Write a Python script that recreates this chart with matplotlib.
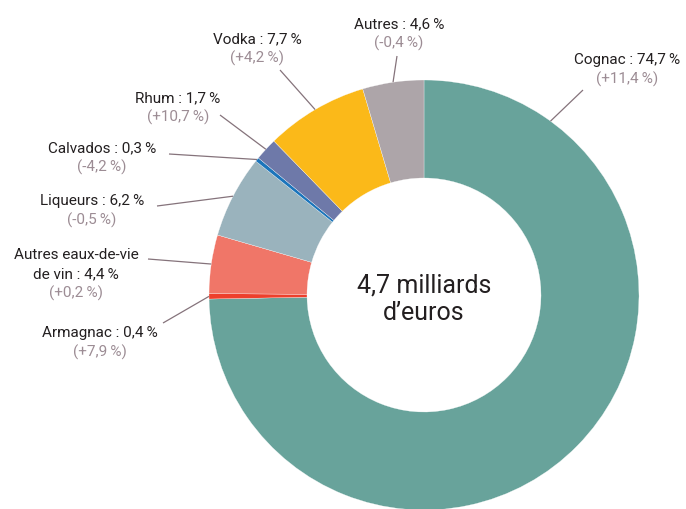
import numpy as np
import matplotlib.pyplot as plt

# clockwise from 12 o'clock
names = ['Cognac', 'Armagnac', 'Autres eaux-de-vie\nde vin', 'Liqueurs',
         'Calvados', 'Rhum', 'Vodka', 'Autres']
shares = [74.7, 0.4, 4.4, 6.2, 0.3, 1.7, 7.7, 4.6]
changes = [11.4, 7.9, 0.2, -0.5, -4.2, 10.7, 4.2, -0.4]
colors = ['#68a39b', '#ee3f2c', '#f07668', '#9ab3bd',
          '#1b75bb', '#6e79a9', '#fbb919', '#ada5a9']
total_label = '4,7 milliards\nd\u2019euros'

W, H = 686, 509
cx, cy = 424, 295          # donut centre, image pixels
r_out, r_in = 215, 117

# label layout (image pixels): text centre x, top line y, leader start
label_pos = [(627, 60), (100, 333), (76, 255), (92, 201),
             (102, 148), (178, 98), (257, 39), (399, 24)]
leader_start = [(583, 90), (163, 323), (148, 259), (157, 206),
                (169, 154), (220, 115), (280, 70), (397, 56)]
anchor_frac = [0.134, 0.5, 0.5, 0.5, 0.5, 0.5, 0.5, 0.5]

dark = '#231f20'
grey = '#9c8c94'
line_c = '#85737b'
fam = ['Roboto', 'DejaVu Sans']


def fmt(v):
    return f'{v:.1f}'.replace('.', ',') + '\u2009%'


def iy(y):
    return H - y


fig = plt.figure(figsize=(W / 100, H / 100), dpi=100)
ax = fig.add_axes([0, 0, 1, 1])

wedges, _ = ax.pie(shares, colors=colors, startangle=90, counterclock=False,
                   radius=r_out, center=(cx, iy(cy)),
                   wedgeprops=dict(width=r_out - r_in, edgecolor='white', linewidth=0.2))

ax.set_xlim(0, W)
ax.set_ylim(0, H)
ax.set_aspect('equal')
ax.axis('off')

for i, w in enumerate(wedges):
    t1, t2 = w.theta1, w.theta2
    # clockwise: start of the slice is theta2
    ang = np.deg2rad(t2 - anchor_frac[i] * (t2 - t1))
    ex = cx + r_out * np.cos(ang)
    ey = iy(cy) + r_out * np.sin(ang)
    sx, sy = leader_start[i]
    ax.plot([sx, ex], [iy(sy), ey], color=line_c, lw=0.9, solid_capstyle='butt')

    tx, ty = label_pos[i]
    lines = names[i].split('\n')
    lines[-1] = lines[-1] + ' : ' + fmt(shares[i])
    for k, ln in enumerate(lines):
        ax.text(tx, iy(ty + 19 * k), ln, ha='center', va='center',
                fontsize=11, color=dark, family=fam)
    sign = '+' if changes[i] > 0 else ''
    ax.text(tx, iy(ty + 19 * len(lines)), '(' + sign + fmt(changes[i]) + ')',
            ha='center', va='center', fontsize=11, color=grey, family=fam)

ax.text(cx, iy(299), total_label, ha='center', va='center', fontsize=18,
        color=dark, family=fam, linespacing=1.2)

fig.savefig('out.png', dpi=100)
